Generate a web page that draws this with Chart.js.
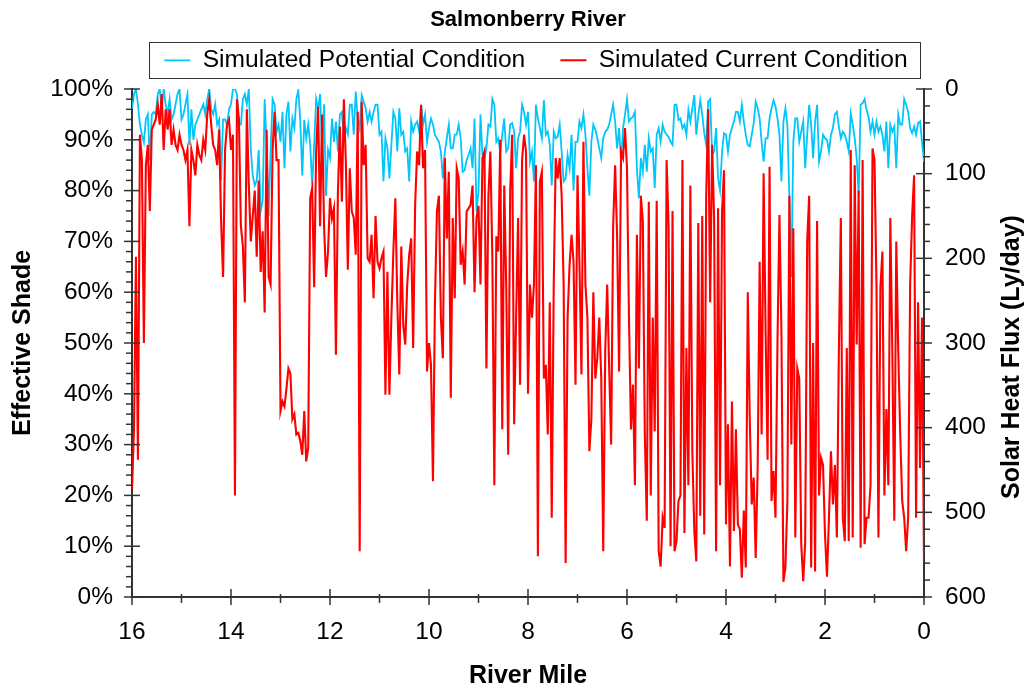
<!DOCTYPE html>
<html><head><meta charset="utf-8">
<script src="https://cdn.jsdelivr.net/npm/chart.js@4.4.1/dist/chart.umd.min.js"></script>
<style>html,body{margin:0;padding:0;background:#fff;}canvas{display:block;}</style>
</head><body>
<canvas id="c" width="1029" height="692"></canvas>
<script>
// ---------------- data ----------------
const chartTitle = 'Salmonberry River';
const seriesNames = ['Simulated Potential Condition', 'Simulated Current Condition'];
const xAxisTitle = 'River Mile';
const leftAxisTitle = 'Effective Shade';
const rightAxisTitle = 'Solar Heat Flux (Ly/day)';

const startMile = 16;      // first sample (upstream end)
const mileStep = 0.04;     // spacing between samples, miles

const mileTicks = [16, 14, 12, 10, 8, 6, 4, 2, 0];
const shadeTicks = [0, 10, 20, 30, 40, 50, 60, 70, 80, 90, 100];
const fluxTicks = [0, 100, 200, 300, 400, 500, 600];
const mileMinorStep = 1, shadeMinorStep = 2, fluxMinorStep = 20;

// Effective shade (%) of the potential condition, from mile 16 down to mile 0
const potentialShade = [
96,99,100,97,93,91,89.5,94,95,86,95,95.5,95,99,100,96,100,97,95,98,94,95,97,99,100,94,95,97,99,89,96,90,93,94,95,96,97,95,98,100,96,95,97,93,94,82,94,94,93,96,97,100,100,99,93,93,98,99,97,100,88,83,81,82,88,76,
78,98,89,75,87.7,98,97,91.6,93,89.6,95.5,84.4,95,97.5,87.7,94.2,92.3,98,99.8,93.6,83,93.9,90.3,93,89,81,89,98,96,99,88.3,97,79,88,86.4,94.2,89.6,93.6,87.7,95,95.5,90.3,92.3,91,96.9,96.9,91,99.5,94.2,92.3,98.8,97.5,96.2,93.6,95.5,93.6,95.5,96.9,96.9,91,91.6,81.8,90.3,88.3,82.4,89,95.5,
94.2,87.7,96.2,91,91.6,87.7,88.3,81.8,93.6,91.6,93,93.6,91.6,96.9,93,95,89.6,92.3,94.2,93,91,90.3,89.6,87.7,82.4,87.7,90.3,93,88.3,88.3,91,91,93,90.3,83.7,84,86,87,88.3,84.4,94.2,75.9,79.8,95,87,86.4,88.3,93,92.6,98,96.9,89.6,90.3,87.7,91,94.2,87.7,88.3,93,93.3,91.6,84.4,90.3,91.6,96.9,95.5,
93,95.5,85.7,87.7,81.8,96.9,94.2,92.3,90.3,97.8,91,91.6,89,81,91.6,90.3,90.6,93,87.7,81.8,82.4,87,84.4,91,80,89.6,89.6,93.6,92.3,95,91,84.4,79,89.6,93,92,90.3,88.3,86.4,90.3,91.6,92,93,95,96.9,93.6,88.3,92.3,85.7,92.3,95,98,93.6,94.2,94.5,95.5,84.4,78.5,86.4,83.7,89,83.7,90.3,87.7,88.3,80.5,91,
92.3,89.6,93,91.6,91,90.6,89.6,89,96.9,96.9,93.9,94.2,92.3,93,91,95.9,93.6,96.2,98.8,91,94.8,97.8,95,91.3,89,97.5,98,87,87.7,92.3,82.4,80,87.7,91.3,91,87.7,91,92.3,93.6,95.5,95.5,93.6,96.9,93.6,91,89,88.7,91,93.3,97.5,96.2,94.2,89.6,85.7,90.3,90.3,94.2,96.2,97.8,96.6,94.2,91,81.8,93.6,96.2,93,79,
63,89.6,94.2,94.2,89.6,91.6,93.6,84.4,91,96.9,93,86.4,93.6,96.9,85.7,87.7,91,90.3,90,87.7,91,92.3,95,95.5,92.6,90.3,91.6,91,89.6,87.7,95.2,93,90.3,86.4,79,96.9,97.2,98,95.9,94.5,91.6,93.6,91,93.6,91.6,92.6,91,87.7,93.6,84.4,93,91.6,92.6,84.4,95,93,93,98,96.9,95.5,92.3,91.3,92.6,91,93.3,93.6,89.6,85.7
];

// Effective shade (%) of the current condition, from mile 16 down to mile 0
const currentShade = [
21,33,67,27,91,86,50,85,89,76,92,93,94,97,93,99,88,96,92,96,89,92,89,88,91,89,88,86,88,73,88,86,83,89,87,86,90,88,95,98,93,89,88,85,92,74,63,88,93,94,88,91,20,98,94,73,69,58,96,81,70,75,80,67,82,64,
72,56,92,63,61.5,88,95.5,86,86,36.6,38.5,37.5,41,45,44,35,36,32,32.3,30.7,28,36.6,26.7,29.4,78.5,80.5,61,87.7,96.5,73,95,73,63,68,78.5,74.5,76.5,47.7,79.8,92.6,77.8,98,85.7,64.4,84.4,75.9,74.6,67.4,95.5,9,97.5,85,89,66.7,66,71.3,58.8,75,66,64.7,66.7,68,39.8,64,39.8,55,68,
78.5,58,43.8,69,53.6,49.7,61.5,67.4,70.6,49,77.2,87.7,85,96.9,84.4,88,44.4,50,45.7,22.8,58,75.9,79,55,47,86.4,70.6,83.7,39.2,74.6,58.8,84.4,82.4,65.4,68,61.5,75.9,76.5,77.2,81,60,74.6,77,61.5,86.4,87.7,45,79,87.7,66.7,22,71,68,90,33,81,61.5,28,79.8,91,34,55,74.6,41.8,86,91,
87.7,40,61.5,55,61.5,85,8,81.8,83.7,43,45.7,32,58,15.6,61.5,86.4,82.4,86.4,79,61.5,6.7,55,65.4,71.3,66,41.8,83,65.4,43.8,89.6,61.5,55,28.7,35,60,43,47,55,43,9,48.4,61.5,45,30,73,85,71,44.4,87.7,86.4,92.3,84.4,55,33,41.8,22,71.3,45,79,73.9,32,15,77.8,20,55,32.6,78,
9,6,15.6,13.6,86,73,10,76,9,11,18.9,20,86,12.6,49,22,81,28.7,13,7,73.6,16,75,12.3,79,96,58,89,74.6,9,76.5,22,75.9,84,14.3,34,6,38.5,13,33,14.3,13.3,3.8,17,5.8,60,35,18.2,23.5,7.7,25.4,66,32,83.4,52.3,27,84.7,18.9,24.8,15.6,50.3,75.2,52,3,5.8,18.9,79,
30,72.6,11.7,45,43,10.4,3.1,11,70,79,5.8,50,5,74,20,27.4,26,12.3,4,15.6,28.7,18.2,26,11.7,48.4,74.6,15.6,11,49,11,88,11.7,85,49.7,80,9.7,86,10.4,15.6,15.6,22,88.3,86,61.5,11.7,61,68,20,37,22,74.6,48.4,15,70,48.4,32,18.9,15.6,9,15.6,61.5,75,83,15.6,58,25.4,55,7
];

// ---------------- styling ----------------
const FONT = '"Liberation Sans", Arial, Helvetica, sans-serif';
const AXIS_COLOR = '#333333';
const BLUE = 'rgb(0,198,250)';
const RED = 'rgb(255,0,0)';
const LEGEND_SHIFT = 8;

const toPoints = arr => arr.map((v, i) => ({ x: startMile - i * mileStep, y: v }));

const axisDecor = {
  id: 'axisDecor',
  afterLayout(chart) {
    // legend is centred on the plot area in the reference
    const lg = chart.legend;
    if (lg) { lg.left += LEGEND_SHIFT; lg.right += LEGEND_SHIFT; }
  },
  afterDraw(chart) {
    const { ctx, chartArea: a } = chart;
    const sx = chart.scales.x, sy = chart.scales.y, sy2 = chart.scales.y2;
    ctx.save();
    ctx.strokeStyle = AXIS_COLOR;
    ctx.lineWidth = 1.5;
    const seg = (x1, y1, x2, y2) => { ctx.beginPath(); ctx.moveTo(x1, y1); ctx.lineTo(x2, y2); ctx.stroke(); };
    for (let v = sy.min; v <= sy.max + 1e-9; v += shadeMinorStep) {
      const p = sy.getPixelForValue(v);
      const major = shadeTicks.includes(Math.round(v));
      if (major) seg(a.left - 8, p, a.left + 8, p); else seg(a.left - 6, p, a.left + 1, p);
    }
    for (let v = sy2.min; v <= sy2.max + 1e-9; v += fluxMinorStep) {
      const p = sy2.getPixelForValue(v);
      const major = fluxTicks.includes(Math.round(v));
      if (major) seg(a.right - 8, p, a.right + 8, p); else seg(a.right - 1, p, a.right + 6, p);
    }
    for (let v = sx.min; v <= sx.max + 1e-9; v += mileMinorStep) {
      const p = sx.getPixelForValue(v);
      const major = mileTicks.includes(Math.round(v));
      if (major) seg(p, a.bottom - 8, p, a.bottom + 8); else seg(p, a.bottom - 3, p, a.bottom + 6);
    }
    // legend frame
    const hb = chart.legend.legendHitBoxes;
    if (hb && hb.length) {
      const first = hb[0], last = hb[hb.length - 1];
      const cy = first.top + first.height / 2;
      ctx.lineWidth = 1;
      ctx.strokeStyle = '#333';
      const l = Math.round(first.left - 15) + 0.5;
      const r = Math.round(last.left + last.width + 12) + 0.5;
      ctx.strokeRect(l, Math.round(cy - 18) + 0.5, r - l, 36);
    }
    // right axis title (reads bottom to top)
    ctx.fillStyle = '#000';
    ctx.font = 'bold 25px ' + FONT;
    ctx.textAlign = 'center';
    ctx.textBaseline = 'middle';
    ctx.translate(sy2.right - 44, (a.top + a.bottom) / 2 + 14);
    ctx.rotate(-Math.PI / 2);
    ctx.fillText(rightAxisTitle, 0, 0);
    ctx.restore();
  }
};

Chart.defaults.color = '#000';
Chart.defaults.font.family = FONT;

new Chart(document.getElementById('c'), {
  type: 'line',
  data: {
    datasets: [
      { label: seriesNames[0], data: toPoints(potentialShade), borderColor: BLUE, backgroundColor: BLUE,
        borderWidth: 1.8, pointRadius: 0, tension: 0, order: 2, yAxisID: 'y' },
      { label: seriesNames[1], data: toPoints(currentShade), borderColor: RED, backgroundColor: RED,
        borderWidth: 2.1, pointRadius: 0, tension: 0, order: 1, yAxisID: 'y' }
    ]
  },
  options: {
    responsive: false,
    animation: false,
    devicePixelRatio: 1,
    events: [],
    layout: { padding: { left: 0, right: -27, top: 0, bottom: 0 } },
    plugins: {
      title: { display: true, text: chartTitle, color: '#000',
        font: { size: 22, weight: 'bold', lineHeight: 1.2 }, padding: { top: 7, bottom: 0 } },
      legend: {
        display: true, position: 'top', align: 'center',
        labels: {
          color: '#000', font: { size: 24.6 }, padding: 14.6,
          usePointStyle: true, pointStyle: 'line', pointStyleWidth: 26,
          sort: (a, b) => a.datasetIndex - b.datasetIndex,
          generateLabels(chart) {
            const items = Chart.defaults.plugins.legend.labels.generateLabels(chart);
            items.forEach(it => { it.pointStyle = 'line'; if (it.datasetIndex === 0) it.text = it.text + '   '; });
            return items;
          }
        }
      },
      subtitle: { display: true, text: '', weight: 500, font: { size: 6.4, lineHeight: 1 }, padding: 0 },
      tooltip: { enabled: false }
    },
    scales: {
      x: {
        type: 'linear', position: 'bottom', reverse: true, min: 0, max: 16,
        afterBuildTicks: s => { s.ticks = mileTicks.map(v => ({ value: v })); },
        afterFit: s => { s.height = 95; },
        grid: { display: false, drawTicks: false },
        border: { display: true, color: AXIS_COLOR, width: 2 },
        ticks: { font: { size: 24.5 }, padding: 21, maxRotation: 0, autoSkip: false, color: '#000' },
        title: { display: true, text: xAxisTitle, color: '#000', font: { size: 25, weight: 'bold', lineHeight: 1.2 }, padding: { top: 0, bottom: 1 } }
      },
      y: {
        type: 'linear', position: 'left', min: 0, max: 100,
        afterBuildTicks: s => { s.ticks = shadeTicks.map(v => ({ value: v })); },
        afterFit: s => { s.width = 132; },
        grid: { display: false, drawTicks: false },
        border: { display: true, color: AXIS_COLOR, width: 2 },
        ticks: { font: { size: 24.5 }, padding: 19, color: '#000', callback: v => v + '%' },
        title: { display: true, text: leftAxisTitle, color: '#000', font: { size: 25, weight: 'bold', lineHeight: 1.2 }, padding: { top: 8, bottom: 0 } }
      },
      y2: {
        type: 'linear', position: 'right', min: 0, max: 600, reverse: true,
        afterBuildTicks: s => { s.ticks = fluxTicks.map(v => ({ value: v })); },
        afterFit: s => { s.width = 132; },
        grid: { display: false, drawTicks: false },
        border: { display: true, color: AXIS_COLOR, width: 2 },
        ticks: { font: { size: 24.5 }, padding: 21, color: '#000' },
        title: { display: false }
      }
    }
  },
  plugins: [axisDecor]
});
</script>
</body></html>
